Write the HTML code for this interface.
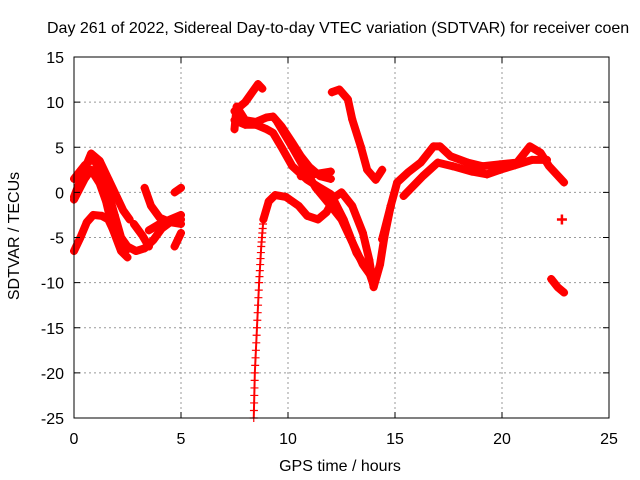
<!DOCTYPE html>
<html><head><meta charset="utf-8"><style>
body{margin:0;background:#fff}
svg{display:block;font-family:"Liberation Sans",sans-serif}
</style></head><body>
<svg id="chart" width="640" height="480">
<rect width="640" height="480" fill="#fff"/>
<text x="47" y="33" font-size="16" fill="#000">Day 261 of 2022, Sidereal Day-to-day VTEC variation (SDTVAR) for receiver coen</text>
<g id="grid"></g>
<g id="series"></g>
<g id="axes"></g>
<text x="340" y="471" font-size="16" text-anchor="middle">GPS time / hours</text>
<text transform="translate(19,236) rotate(-90)" font-size="16" text-anchor="middle">SDTVAR / TECUs</text>
</svg>
<script>
const xTicks=[0,5,10,15,20,25];
const yTicks=[15,10,5,0,-5,-10,-15,-20,-25];
const trackA1=[[0,-0.5],[0.4,2],[0.8,4.3],[1.2,3.5],[1.6,1.5],[2.0,-0.5],[2.3,-2],[2.6,-3]];
const trackA2=[[0,-0.8],[0.5,1.5],[0.8,2.5],[1.2,1],[1.5,-1],[1.8,-4],[2.2,-6.5],[2.5,-7.2]];
const trackA3=[[0,1.5],[0.5,3],[0.9,3.8],[1.3,2],[1.6,0],[1.9,-2.5],[2.2,-5],[2.5,-6],[2.9,-6.5],[3.3,-6.2],[3.7,-5.3],[4.1,-4],[4.5,-3.3],[5,-3]];
const trackA4=[[0,-6.5],[0.3,-5],[0.6,-3.3],[0.9,-2.5],[1.3,-2.6],[1.6,-3],[1.9,-4.5],[2.2,-6],[2.5,-6.3]];
const trackA5=[[3.3,0.5],[3.6,-1.5],[4,-2.8],[4.5,-3.3],[5,-3.5]];
const trackA6=[[2.8,-3.5],[3.2,-4.8],[3.5,-6]];
const trackA7=[[3.5,-4.2],[4,-3.5],[4.5,-3],[5,-2.5]];
const trackA8=[[4.7,0],[5,0.5]];
const trackA9=[[4.7,-6],[5,-4.5]];
const trackB1=[[7.5,9],[8,10],[8.6,12],[8.8,11.5]];
const trackB2=[[7.5,7],[7.6,9.5],[8,8],[8.5,7.8],[9,8.3],[9.3,8.4],[9.7,7.3],[10.2,5.5],[10.6,4],[11,2.8],[11.5,1.8],[12,1.5]];
const trackB3=[[7.5,8],[8,7.5],[8.5,7.5],[9,7],[9.3,6.6],[9.7,5],[10.2,2.9],[10.9,1.4],[11.5,0.5],[12,-0.2],[12.6,-3],[13.2,-6.7],[13.8,-8.9],[14,-10.3]];
const trackB4=[[10.6,1.8],[11.2,2.0],[12,2.3]];
const trackB6=[[9.5,7.8],[10.2,5],[10.8,2.5],[11.3,0.5],[12,-1.5],[12.5,-3],[13,-5.5],[13.5,-8],[13.8,-9]];
const trackB5=[[8.85,-3],[9.1,-1],[9.4,-0.3],[9.9,-0.5],[10.5,-1.5],[10.9,-2.6],[11.4,-3],[11.8,-2.2],[12.2,-0.5],[12.5,0],[13,-1.5],[13.5,-4.5],[13.8,-7.5],[14,-10.5],[14.3,-8],[14.5,-5],[14.8,-1.5]];
const trackC1=[[12.05,11.1],[12.4,11.4],[12.8,10.3],[13,8.1],[13.4,5.1],[13.7,2.5],[14.1,1.4],[14.4,2.5]];
const trackC2=[[14.4,-5.2],[14.8,-1.5],[15.1,1.1],[15.6,2.2],[16.2,3.3],[16.8,5.1],[17.1,5.1],[17.6,4],[18.4,3.3],[19.1,2.9],[19.9,3.1],[20.7,3.3],[21.3,5.1],[21.8,4.4],[22.2,2.9],[22.9,1.1]];
const trackC3=[[15.4,-0.4],[16.3,1.8],[17,3.3],[17.7,2.9],[18.6,2.3],[19.3,2],[19.9,2.5],[20.6,3],[21.4,3.6],[22.1,3.6]];
const trackC4=[[22.8,-3]];
const trackC5=[[22.3,-9.6],[22.6,-10.5],[22.9,-11.1]];
const thickTracks=[trackA1,trackA2,trackA3,trackA4,trackA5,trackA6,trackA7,trackA8,trackA9,trackB1,trackB2,trackB3,trackB4,trackB5,trackB6,trackC1,trackC2,trackC3,trackC5];
const sparseTrack=[[8.4,-25],[8.45,-20],[8.55,-15],[8.65,-10],[8.75,-6],[8.85,-3]];
const singlePoints=trackC4;

const X0=74,X1=609,Y0=418,Y1=57;
const sx=h=>X0+(h-0)/(25-0)*(X1-X0);
const sy=v=>Y0-(v-(-25))/(15-(-25))*(Y0-Y1);
const NS='http://www.w3.org/2000/svg';
function mk(tag,attrs,parent){const e=document.createElementNS(NS,tag);for(const k in attrs)e.setAttribute(k,attrs[k]);parent.appendChild(e);return e;}
const grid=document.getElementById('grid'),axes=document.getElementById('axes'),ser=document.getElementById('series');
xTicks.forEach(t=>{
  const x=sx(t);
  if(t>0&&t<25){const l=mk('line',{x1:x,x2:x,y1:Y1,y2:Y0,stroke:'#999','stroke-dasharray':'2,3'},grid);
  
  }
  mk('line',{x1:x,x2:x,y1:Y0,y2:Y0-6,stroke:'#000'},axes);
  mk('line',{x1:x,x2:x,y1:Y1,y2:Y1+6,stroke:'#000'},axes);
  const tx=mk('text',{x:x,y:Y0+26,'font-size':'16','text-anchor':'middle'},axes);tx.textContent=t;
  
  
});
yTicks.forEach(t=>{
  const y=sy(t);
  if(t<15&&t>-25){const l=mk('line',{x1:X0,x2:X1,y1:y,y2:y,stroke:'#999','stroke-dasharray':'2,3'},grid);
  
  }
  mk('line',{x1:X0,x2:X0+6,y1:y,y2:y,stroke:'#000'},axes);
  mk('line',{x1:X1,x2:X1-6,y1:y,y2:y,stroke:'#000'},axes);
  const tx=mk('text',{x:X0-10,y:y+6,'font-size':'16','text-anchor':'end'},axes);tx.textContent=t;
  
  
});
const fr=mk('rect',{x:X0,y:Y1,width:X1-X0,height:Y0-Y1,fill:'none',stroke:'#000','stroke-width':1},axes);


function plus(h,v,s,w){const x=sx(h),y=sy(v);
  mk('path',{d:`M${x-s},${y}H${x+s}M${x},${y-s}V${y+s}`,stroke:'#f00','stroke-width':w,fill:'none'},ser);}
thickTracks.forEach(tr=>{
  const pl=mk('polyline',{points:tr.map(p=>sx(p[0])+','+sy(p[1])).join(' '),fill:'none',stroke:'#f00','stroke-width':8,'stroke-linejoin':'round','stroke-linecap':'round'},ser);
  
  
  tr.forEach(p=>plus(p[0],p[1],4,2));
});
singlePoints.forEach(p=>plus(p[0],p[1],5,2.5));
const sp=mk('polyline',{points:sparseTrack.map(p=>sx(p[0])+','+sy(p[1])).join(' '),fill:'none',stroke:'#f00','stroke-width':2},ser);


for(let i=0;i<sparseTrack.length-1;i++){
  const a=sparseTrack[i],b=sparseTrack[i+1];
  for(let k=0;k<6;k++){const f=k/6;plus(a[0]+(b[0]-a[0])*f,a[1]+(b[1]-a[1])*f,4,1.2);}
}
</script>
</body></html>
